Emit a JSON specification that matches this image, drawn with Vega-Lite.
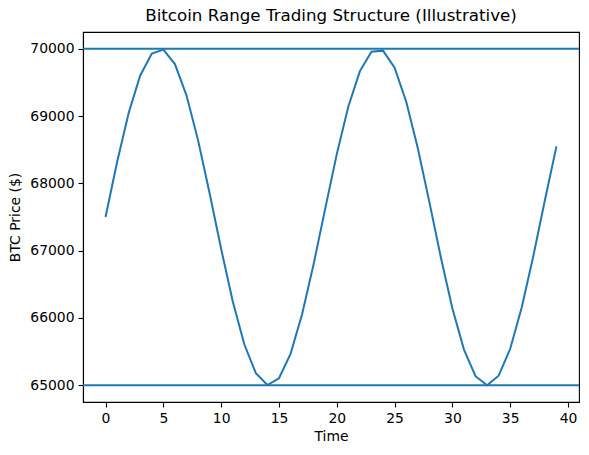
{
  "$schema": "https://vega.github.io/schema/vega-lite/v6.json",
  "width": 496,
  "height": 370,
  "autosize": {"type": "none"},
  "padding": {"left": 83, "top": 32, "right": 10, "bottom": 53},
  "background": "white",
  "config": {
    "font": "DejaVu Sans",
    "view": {"stroke": "black", "strokeWidth": 1.1},
    "axis": {
      "grid": false,
      "domainColor": "black",
      "domainWidth": 1.1,
      "tickColor": "black",
      "tickWidth": 1.1,
      "tickSize": 5,
      "labelFontSize": 13.9,
      "labelColor": "black",
      "labelFont": "DejaVu Sans",
      "titleFont": "DejaVu Sans",
      "titleFontSize": 13.9,
      "titleFontWeight": "normal",
      "titleColor": "black",
      "labelPadding": 4
    }
  },
  "title": {
    "text": "Bitcoin Range Trading Structure (Illustrative)",
    "fontSize": 16.7,
    "fontWeight": "normal",
    "font": "DejaVu Sans",
    "color": "black",
    "offset": 7
  },
  "datasets": {
    "price": [
      {"t": 0, "p": 67500}, {"t": 1, "p": 68318}, {"t": 2, "p": 69046}, {"t": 3, "p": 69604},
      {"t": 4, "p": 69930}, {"t": 5, "p": 69988}, {"t": 6, "p": 69773}, {"t": 7, "p": 69308},
      {"t": 8, "p": 68643}, {"t": 9, "p": 67853}, {"t": 10, "p": 67024}, {"t": 11, "p": 66247},
      {"t": 12, "p": 65608}, {"t": 13, "p": 65178}, {"t": 14, "p": 65002}, {"t": 15, "p": 65103},
      {"t": 16, "p": 65465}, {"t": 17, "p": 66054}, {"t": 18, "p": 66801}, {"t": 19, "p": 67625},
      {"t": 20, "p": 68435}, {"t": 21, "p": 69142}, {"t": 22, "p": 69669}, {"t": 23, "p": 69956},
      {"t": 24, "p": 69973}, {"t": 25, "p": 69718}, {"t": 26, "p": 69217}, {"t": 27, "p": 68530},
      {"t": 28, "p": 67728}, {"t": 29, "p": 66901}, {"t": 30, "p": 66140}, {"t": 31, "p": 65529},
      {"t": 32, "p": 65134}, {"t": 33, "p": 65000}, {"t": 34, "p": 65141}, {"t": 35, "p": 65541},
      {"t": 36, "p": 66158}, {"t": 37, "p": 66921}, {"t": 38, "p": 67750}, {"t": 39, "p": 68550}
    ],
    "levels": [{"level": 70000}, {"level": 65000}]
  },
  "layer": [
    {
      "data": {"name": "levels"},
      "mark": {"type": "rule", "color": "#1f77b4", "strokeWidth": 2},
      "encoding": {
        "y": {"field": "level", "type": "quantitative", "scale": {"domain": [64750, 70250], "nice": false, "zero": false}}
      }
    },
    {
      "data": {"name": "price"},
      "mark": {"type": "line", "color": "#1f77b4", "strokeWidth": 2},
      "encoding": {
        "x": {
          "field": "t", "type": "quantitative", "title": "Time",
          "scale": {"domain": [-1.95, 40.95], "nice": false, "zero": false},
          "axis": {"values": [0, 5, 10, 15, 20, 25, 30, 35, 40], "format": "d", "titlePadding": 5}
        },
        "y": {
          "field": "p", "type": "quantitative", "title": "BTC Price ($)",
          "scale": {"domain": [64750, 70250], "nice": false, "zero": false},
          "axis": {"values": [65000, 66000, 67000, 68000, 69000, 70000], "format": "d", "titlePadding": 7}
        }
      }
    }
  ]
}
